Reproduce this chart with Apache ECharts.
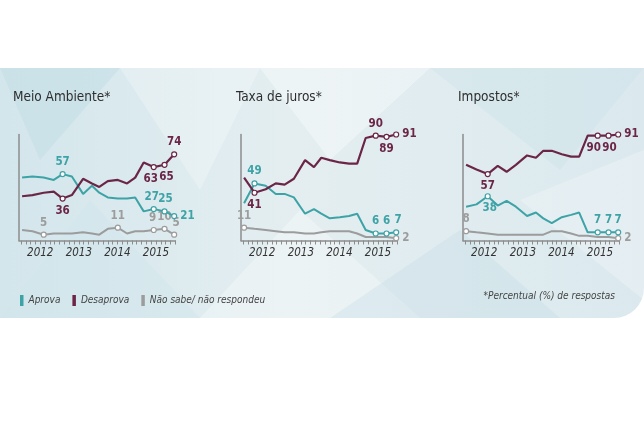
<!DOCTYPE html>
<html><head><meta charset="utf-8">
<script src="https://cdn.jsdelivr.net/npm/echarts@6/dist/echarts.min.js"></script>
<style>html,body{margin:0;padding:0;background:#fff}#c{width:644px;height:434px}</style>
</head><body><div id="c"></div><script>
// ---- data ----
const surveyTimes = [2012.03, 2012.30, 2012.59, 2012.85, 2013.08, 2013.32, 2013.61, 2013.84, 2014.03, 2014.25, 2014.51, 2014.75, 2014.96, 2015.18, 2015.44, 2015.72, 2015.97];
const yearLabels = [2012, 2013, 2014, 2015];
const panelTitles = ['Meio Ambiente*', 'Taxa de juros*', 'Impostos*'];
const seriesNames = ['Aprova', 'Desaprova', 'Não sabe/ não respondeu'];

const meioAprova    = [54, 55, 54, 52, 57, 55, 40, 47, 41, 37, 36, 36, 37, 25, 27, 25, 21];
const meioDesaprova = [38, 39, 41, 42, 36, 39, 53, 49, 46, 51, 52, 49, 54, 67, 63, 65, 74];
const meioNaoSabe   = [9, 8, 5, 6, 6, 6, 7, 6, 5, 10, 11, 6, 8, 8, 9, 10, 5];

const jurosAprova    = [32, 49, 47, 40, 40, 37, 23, 27, 23, 19, 20, 21, 23, 9, 6, 6, 7];
const jurosDesaprova = [54, 41, 44, 49, 48, 53, 69, 63, 71, 69, 67, 66, 66, 88, 90, 89, 91];
const jurosNaoSabe   = [11, 10, 9, 8, 7, 7, 6, 6, 7, 8, 8, 8, 6, 3, 3, 3, 2];

const impAprova    = [29, 31, 38, 30, 34, 29, 21, 24, 19, 15, 20, 22, 24, 7, 7, 7, 7];
const impDesaprova = [65, 61, 57, 64, 59, 65, 73, 71, 77, 77, 74, 72, 72, 90, 90, 90, 91];
const impNaoSabe   = [8, 7, 6, 5, 5, 5, 5, 5, 5, 8, 8, 6, 4, 4, 3, 3, 2];

const footNote = '*Percentual (%) de respostas';

// ---- styling / layout ----
const colors = ['#3ea3a6', '#6b2647', '#9c9c9c'];
const FONT = '"Liberation Sans Narrow","DejaVu Sans Condensed","Liberation Sans",sans-serif';
// label placement per point index: [position, dx]
const panels = [
  { left: 19, title: 13, data: [meioAprova, meioDesaprova, meioNaoSabe],
    labels: [ {4:['top',0],14:['top',-2],15:['top',1],16:['right',0]},
              {4:['bottom',0],14:['bottom',-3],15:['bottom',2],16:['top',0]},
              {2:['top',0],10:['top',0],14:['top',-1],15:['top',0],16:['top',2]} ] },
  { left: 241, title: 236, data: [jurosAprova, jurosDesaprova, jurosNaoSabe],
    labels: [ {1:['top',0],14:['top',0],15:['top',0],16:['top',2]},
              {1:['bottom',0],14:['top',0],15:['bottom',0],16:['right',0]},
              {0:['top',0],16:['right',0]} ] },
  { left: 463, title: 458, data: [impAprova, impDesaprova, impNaoSabe],
    labels: [ {2:['bottom',2],14:['top',0],15:['top',0],16:['top',0]},
              {2:['bottom',0],14:['bottom',-4],15:['bottom',1],16:['right',0]},
              {0:['top',0],16:['right',0]} ] }
];
const X_MIN = 2011.95, X_MAX = 2016.0, PX_PER_YEAR = 38.6;
const gridW = (X_MAX - X_MIN) * PX_PER_YEAR;
const tickVals = []; for (let k = 0; k <= 32; k++) tickVals.push(2012 + k * 0.125);

const grids = [], xAxes = [], yAxes = [], series = [];
panels.forEach((p, i) => {
  grids.push({ left: p.left, width: gridW, top: 134.5, height: 106 });
  xAxes.push({
    type: 'value', gridIndex: i, min: X_MIN, max: X_MAX,
    axisLine: { show: true, lineStyle: { color: '#8d8d8d', width: 1.5 } },
    axisTick: { show: true, customValues: tickVals, length: 4, lineStyle: { color: '#8d8d8d', width: 1 } },
    axisLabel: { customValues: yearLabels.map(y => y + 0.5), formatter: v => String(Math.floor(v)),
      fontStyle: 'italic', fontSize: 11.5, color: '#333', fontFamily: FONT, margin: 7 },
    splitLine: { show: false }
  });
  yAxes.push({
    type: 'value', gridIndex: i, min: 0, max: 91,
    axisLine: { show: true, lineStyle: { color: '#8d8d8d', width: 1.5 } },
    axisTick: { show: false }, axisLabel: { show: false }, splitLine: { show: false }
  });
  p.data.forEach((arr, s) => {
    const lab = p.labels[s];
    series.push({
      name: seriesNames[s], type: 'line', xAxisIndex: i, yAxisIndex: i,
      color: colors[s], showAllSymbol: true, symbol: 'circle',
      lineStyle: { width: s === 1 ? 2.2 : 2, color: colors[s] },
      itemStyle: { color: '#fff', borderColor: colors[s], borderWidth: 1.2 },
      z: s === 2 ? 2 : 3,
      emphasis: { disabled: true },
      data: arr.map((v, k) => {
        const pl = lab[k];
        return pl ? { value: [surveyTimes[k], v], symbolSize: 5,
          label: { show: true, position: pl[0], offset: [pl[1], 0], distance: 3, color: colors[s], fontSize: 11.5, fontWeight: 'bold', fontFamily: FONT } }
          : { value: [surveyTimes[k], v], symbolSize: 0 };
      })
    });
  });
});

const bandTop = 68, bandBot = 318;
const tri = (pts, fill) => ({ type: 'polygon', z: -9, silent: true, shape: { points: pts }, style: { fill } });
const graphics = [
  { type: 'rect', z: -10, silent: true, shape: { x: 0, y: bandTop, width: 644, height: bandBot - bandTop, r: [0, 0, 30, 0] },
    style: { fill: new echarts.graphic.LinearGradient(0, 0, 1, 0, [
      { offset: 0, color: '#d3e6ec' }, { offset: 0.45, color: '#e4eef1' }, { offset: 1, color: '#dbe9ee' }]) } },
  tri([[0, 68], [120, 68], [40, 160]], 'rgba(190,220,228,0.45)'),
  tri([[120, 68], [260, 68], [200, 190]], 'rgba(255,255,255,0.25)'),
  tri([[260, 68], [430, 68], [330, 160]], 'rgba(255,255,255,0.35)'),
  tri([[430, 68], [644, 68], [560, 170]], 'rgba(200,225,232,0.35)'),
  tri([[0, 318], [90, 200], [200, 318]], 'rgba(205,228,234,0.35)'),
  tri([[200, 318], [300, 210], [420, 318]], 'rgba(255,255,255,0.3)'),
  tri([[330, 318], [460, 230], [560, 318]], 'rgba(195,222,230,0.35)'),
  tri([[520, 200], [644, 150], [644, 300]], 'rgba(255,255,255,0.25)')
];
panels.forEach((p, i) => graphics.push({ type: 'text', left: p.title, top: 90, silent: true,
  style: { text: panelTitles[i], fill: '#2e2e2e', fontSize: 13.5, fontFamily: FONT } }));
graphics.push({ type: 'text', right: 29, top: 291, silent: true,
  style: { text: footNote, fill: '#444', fontSize: 10, fontStyle: 'italic', fontFamily: FONT } });

const chart = echarts.init(document.getElementById('c'), null, { renderer: 'canvas' });
chart.setOption({
  animation: false,
  backgroundColor: '#ffffff',
  grid: grids, xAxis: xAxes, yAxis: yAxes, series,
  legend: { left: 15, top: 290, icon: 'rect', itemWidth: 3.5, itemHeight: 11, itemGap: 12, selectedMode: false,
    textStyle: { fontStyle: 'italic', fontSize: 10, color: '#444', fontFamily: FONT },
    data: seriesNames.map((n, i) => ({ name: n, itemStyle: { color: colors[i], borderWidth: 0 } })) },
  graphic: graphics
});
</script></body></html>
